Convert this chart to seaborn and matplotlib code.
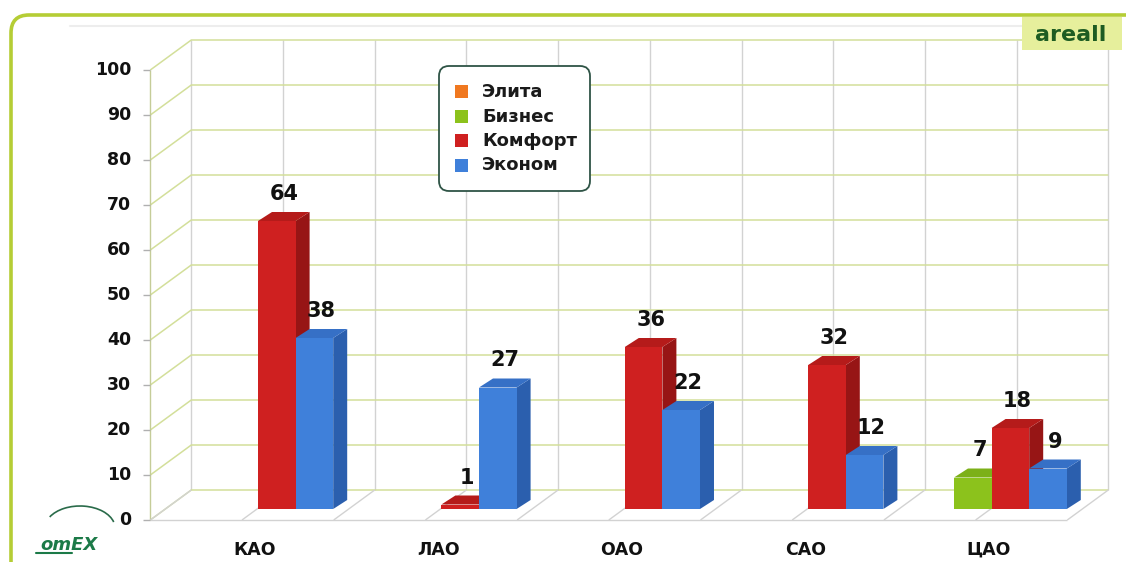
import numpy as np
import pandas as pd
import matplotlib
matplotlib.use("Agg")
import matplotlib.pyplot as plt
import seaborn as sns
from matplotlib.patches import Polygon, FancyBboxPatch, Rectangle, Arc

# ---------------- data ----------------
categories = ["КАО", "ЛАО", "ОАО", "САО", "ЦАО"]
segments = ["Элита", "Бизнес", "Комфорт", "Эконом"]
elita = [np.nan, np.nan, np.nan, np.nan, np.nan]
biznes = [np.nan, np.nan, np.nan, np.nan, 7]
komfort = [64, 1, 36, 32, 18]
ekonom = [38, 27, 22, 12, 9]
y_ticks = [0, 10, 20, 30, 40, 50, 60, 70, 80, 90, 100]
badge_text = "areall"
logo_text = "omEX"

front_colors = {"Элита": "#f07820", "Бизнес": "#8cc21c", "Комфорт": "#cf2020", "Эконом": "#3f80da"}
side_colors = {"Элита": "#b85510", "Бизнес": "#6a9714", "Комфорт": "#971515", "Эконом": "#2b5fae"}
top_colors = {"Элита": "#d86818", "Бизнес": "#7cb018", "Комфорт": "#b51b1a", "Эконом": "#3670c6"}

rows = []
for seg, vals in zip(segments, [elita, biznes, komfort, ekonom]):
    for cat, v in zip(categories, vals):
        rows.append({"district": cat, "segment": seg, "value": v})
df = pd.DataFrame(rows).dropna()

# ---------------- geometry (pixels) ----------------
W, H = 1126, 562
PX = 183.4      # px per category unit
PY = 4.5        # px per value unit
X0PX = 258      # image x of category 0 on bar plane
Y0PX = 509      # image y of value 0 on bar plane
XMIN, XMAX = -0.72, 4.72

sns.set_theme(style="white")
plt.rcParams['font.family'] = ['DejaVu Sans']

fig = plt.figure(figsize=(W / 100, H / 100), dpi=100)
fig.patch.set_facecolor("white")

# background axes (image pixel coords)
bg = fig.add_axes([0, 0, 1, 1], zorder=0)
bg.set_xlim(0, W)
bg.set_ylim(H, 0)
bg.axis("off")
bg.add_patch(FancyBboxPatch((11, 15), W + 60, H + 60,
                            boxstyle="round,pad=0,rounding_size=18",
                            facecolor="white", edgecolor="#b5cd35", lw=2.6))
bg.plot([70, 1118], [26, 26], color="#ededed", lw=1.5)

# main axes: bar front plane
ax = fig.add_axes([(X0PX + XMIN * PX) / W, (H - Y0PX) / H,
                   (XMAX - XMIN) * PX / W, 100 * PY / H], zorder=1)
ax.patch.set_alpha(0)

sns.barplot(data=df, x="district", y="value", hue="segment",
            order=categories, hue_order=segments, palette=front_colors,
            width=0.82, dodge=True, saturation=1, errorbar=None,
            legend=False, ax=ax)
ax.set_xlim(XMIN, XMAX)
ax.set_ylim(0, 100)
ax.axis("off")


def off(dx_px, dy_px):
    return dx_px / PX, dy_px / PY


fx, fy = off(-16, -11)   # front plane offset
bx, by = off(25, 19)     # back plane offset
dx, dy = off(14, 9)      # bar depth
L, R = -0.5, 4.5

grid_green = "#d3df9a"
grid_grey = "#d2d2d2"
kw = dict(clip_on=False, zorder=0.5, solid_capstyle="butt")

# back wall vertical lines
for k in range(11):
    x = L + 0.5 * k
    ax.plot([x + bx, x + bx], [by, 100 + by], color=grid_grey, lw=1, **kw)
# horizontal grid lines (left wall + back wall)
for v in y_ticks:
    ax.plot([L + fx, L + bx, R + bx], [v + fy, v + by, v + by],
            color=grid_green, lw=1.1, **kw)
# left wall front edge
ax.plot([L + fx, L + fx], [fy, 100 + fy], color="#c5cc98", lw=1, **kw)
# floor
ax.plot([L + fx, R + fx], [fy, fy], color=grid_grey, lw=1, **kw)
for k in range(11):
    x = L + 0.5 * k
    ax.plot([x + fx, x + bx], [fy, by], color=grid_grey, lw=1, **kw)

# tick marks & labels
for v in y_ticks:
    ax.plot([L + fx - 7 / PX, L + fx], [v + fy, v + fy], color="#b0b0b0", lw=1, **kw)
    ax.text(L + fx - 19 / PX, v + fy, str(v), ha="right", va="center",
            fontsize=12.5, fontweight="bold", color="#111111", clip_on=False)

# category labels
for i, c in enumerate(categories):
    ax.text(i - 3 / PX, -(550 - Y0PX) / PY, c, ha="center", va="center",
            fontsize=12.5, fontweight="bold", color="#111111", clip_on=False)

# 3D bar faces
bars = [p for p in ax.patches if np.isfinite(p.get_height()) and p.get_height() > 0]
bars.sort(key=lambda p: p.get_x())
color_to_seg = {matplotlib.colors.to_hex(c): s for s, c in front_colors.items()}
for r, p in enumerate(bars):
    x0, w, h = p.get_x(), p.get_width(), p.get_height()
    seg = color_to_seg.get(matplotlib.colors.to_hex(p.get_facecolor()), "Комфорт")
    z = 2 + r * 0.1
    side = Polygon([(x0 + w, 0), (x0 + w + dx, dy), (x0 + w + dx, h + dy), (x0 + w, h)],
                   closed=True, facecolor=side_colors[seg], edgecolor="none",
                   zorder=z, clip_on=False)
    top = Polygon([(x0, h), (x0 + dx, h + dy), (x0 + w + dx, h + dy), (x0 + w, h)],
                  closed=True, facecolor=top_colors[seg], edgecolor="none",
                  zorder=z, clip_on=False)
    ax.add_patch(side)
    ax.add_patch(top)
    p.set_zorder(z + 0.05)
    p.set_edgecolor("none")
    p.set_clip_on(False)
    ax.text(x0 + w / 2 + dx / 2, h + dy + 12 / PY, f"{int(round(h))}",
            ha="center", va="baseline", fontsize=15, fontweight="bold",
            color="#111111", zorder=5, clip_on=False)

# overlay axes (image pixel coords)
ov = fig.add_axes([0, 0, 1, 1], zorder=3)
ov.set_xlim(0, W)
ov.set_ylim(H, 0)
ov.axis("off")
ov.patch.set_alpha(0)

# legend
ov.add_patch(FancyBboxPatch((439, 66), 151, 125, boxstyle="round,pad=0,rounding_size=10",
                            facecolor="white", edgecolor="#2f5446", lw=1.3))
for i, seg in enumerate(segments):
    yc = 92 + i * 24.5
    ov.add_patch(Rectangle((455, yc - 7), 13, 13, facecolor=front_colors[seg], edgecolor="none"))
    ov.text(482, yc, seg, ha="left", va="center", fontsize=13, fontweight="bold",
            color="#1a1a1a")

# badge
ov.add_patch(Rectangle((1022, 17), 100, 33, facecolor="#e6ef9c", edgecolor="none"))
ov.text(1071, 35, badge_text, ha="center", va="center", fontsize=16,
        fontweight="bold", color="#1d5c22")

# logo
ov.add_patch(Arc((80, 528), 70, 44, theta1=200, theta2=350, color="#2a6b4a", lw=1.2))
ov.text(40, 545, logo_text, ha="left", va="center", fontsize=13, fontweight="bold",
        fontstyle="italic", color="#1c7a48")
ov.plot([36, 72], [553, 553], color="#1c7a48", lw=1.5)

fig.savefig("out.png", dpi=100, facecolor="white")
